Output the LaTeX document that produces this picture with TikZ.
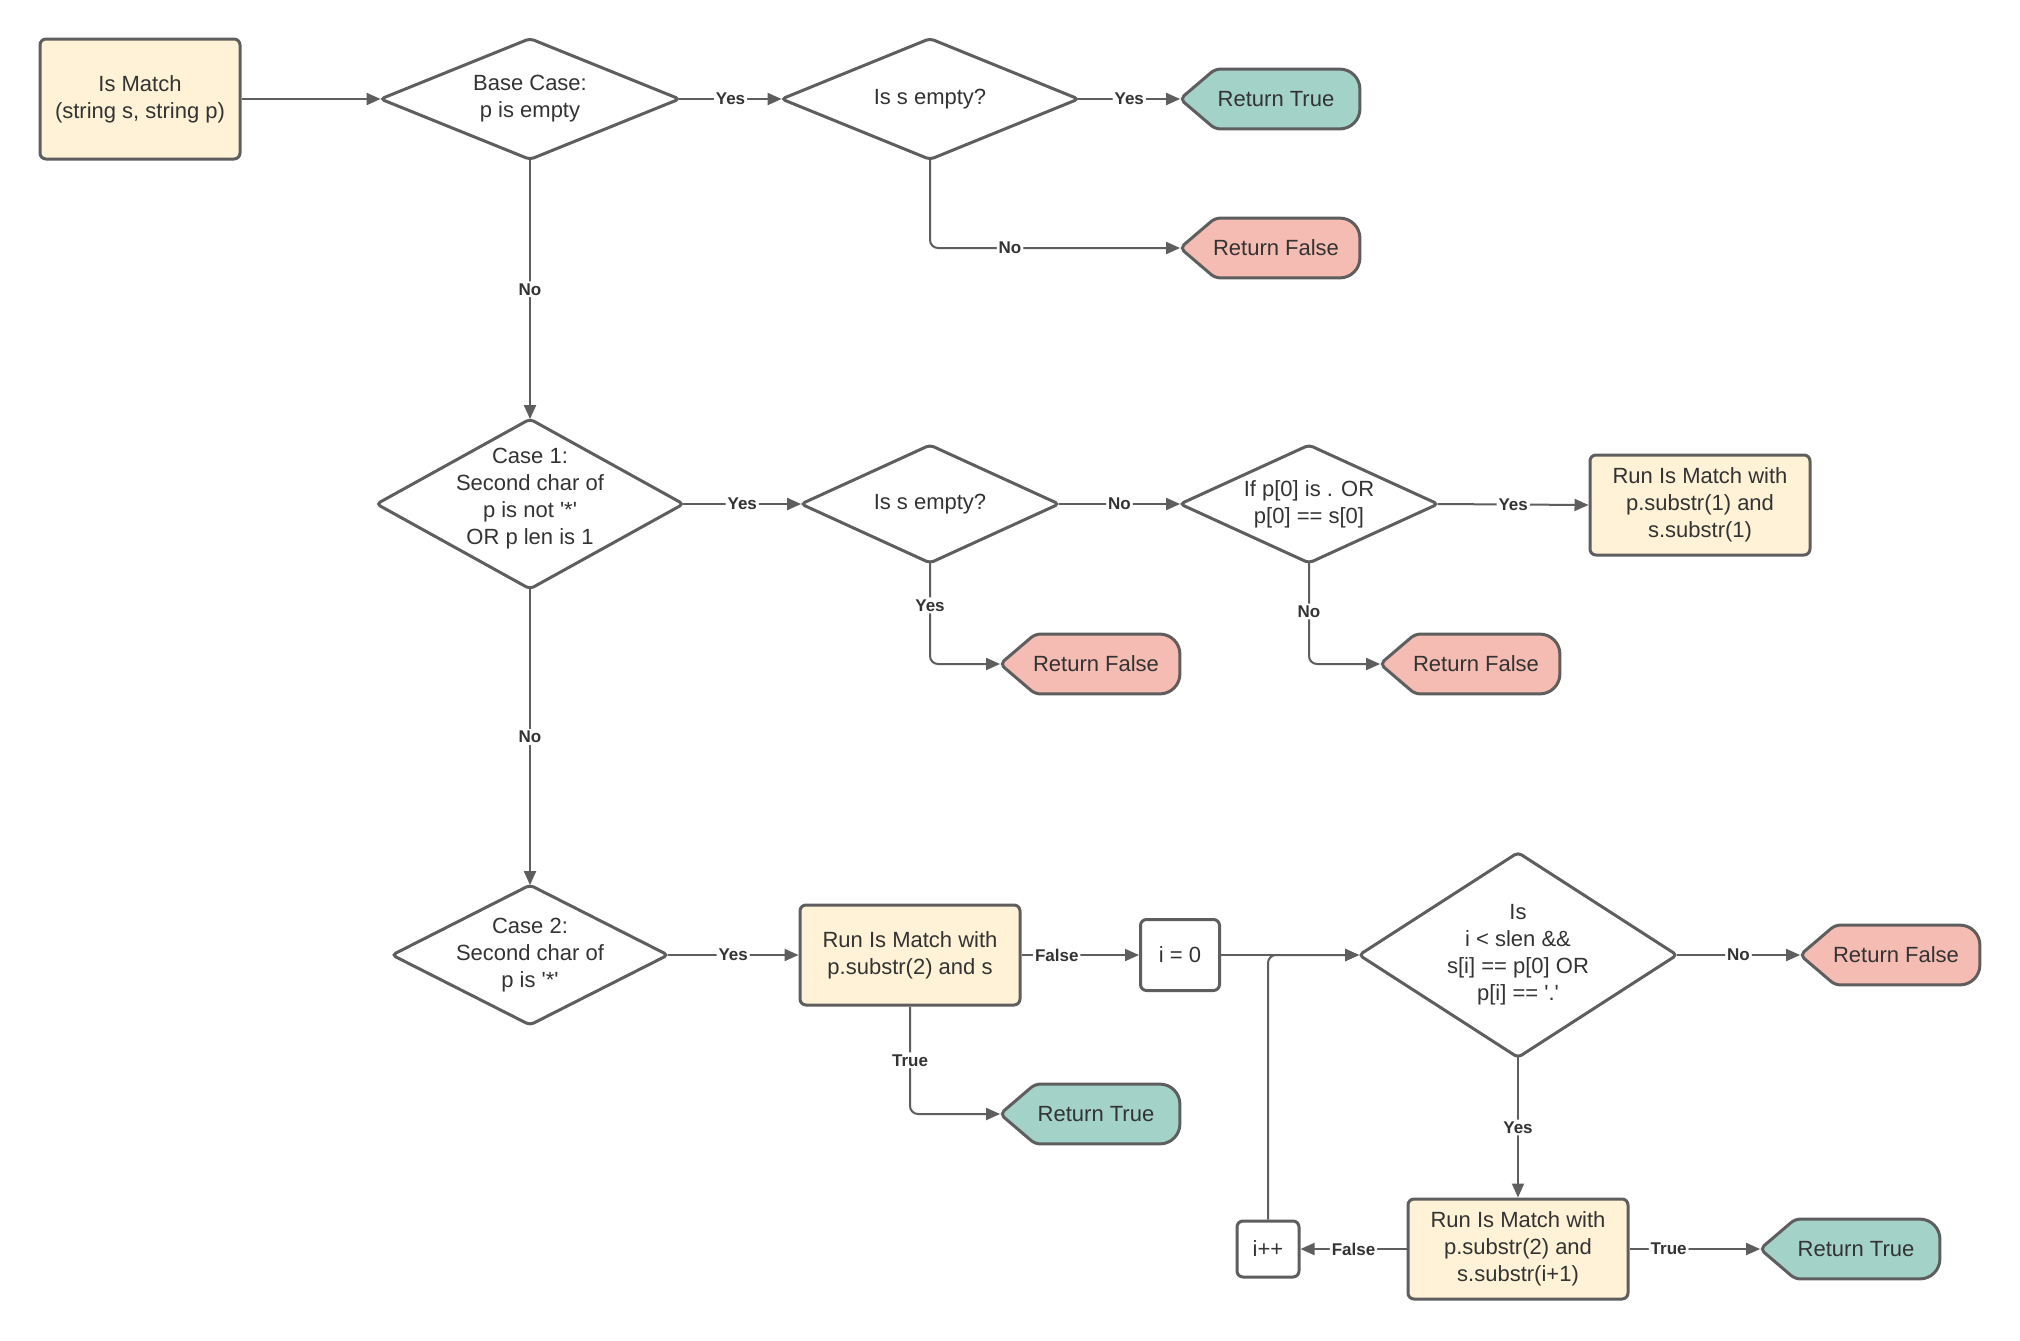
\documentclass[tikz,border=0pt]{standalone}
\usepackage{fontspec}
\setmainfont{Liberation Sans}
\usetikzlibrary{arrows.meta,backgrounds}
\definecolor{lc}{HTML}{5E5E5E}
\definecolor{tc}{HTML}{333333}
\definecolor{yel}{HTML}{FFF2D6}
\definecolor{grn}{HTML}{A3D2C8}
\definecolor{rfill}{HTML}{F4BCB2}
\newcommand\sq{\textquotesingle}
\begin{document}
\begin{tikzpicture}[x=0.5pt,y=-0.5pt,
  every node/.style={text=tc, font=\fontsize{11}{13.5}\selectfont, align=center},
  proc/.style 2 args={rectangle, draw=lc, line width=1.5pt, fill=yel, rounded corners=3pt, minimum width=#1, minimum height=#2, inner sep=0pt},
  plain/.style 2 args={rectangle, draw=lc, line width=1.5pt, fill=white, rounded corners=3pt, minimum width=#1, minimum height=#2, inner sep=0pt},
  dec/.style 2 args={rectangle, minimum width=#1, minimum height=#2, inner sep=0pt},
  ret/.style={rectangle, minimum width=89.5pt, minimum height=29.5pt, inner sep=0pt, execute at begin node={\hspace*{6pt}}},
  conn/.style={draw=lc, line width=1pt, -{Triangle[length=7pt,width=6pt]}, rounded corners=4pt},
  lab/.style={fill=white, inner sep=1pt, text=tc, font=\bfseries\fontsize{8.5}{10}\selectfont},
  outline/.style={draw=lc, line width=1.5pt}
]
\useasboundingbox (0,0) rectangle (2020,1340);

\node[proc={100pt}{60pt}] (start) at (140,99) {Is Match\\(string s, string p)};
\node[dec={149pt}{60pt}] (base) at (530,99) {Base Case:\\p is empty};
\node[dec={148pt}{60pt}] (se1) at (930,99) {Is s empty?};
\node[ret] (rt1) at (1270,99) {Return True};
\node[ret] (rf1) at (1270,248) {Return False};
\node[dec={153pt}{84.5pt}] (c1) at (530,504) {Case 1:\\Second char of\\p is not \sq*\sq\\OR p len is 1\rule[-7.5pt]{0pt}{0pt}};
\node[dec={128.5pt}{58.5pt}] (se2) at (930,504) {Is s empty?};
\node[dec={128.5pt}{58.5pt}] (ifp) at (1309,504) {If p[0] is . OR\\p[0] == s[0]};
\node[proc={110pt}{50pt}] (run1) at (1700,505) {Run Is Match with\\p.substr(1) and\\s.substr(1)};
\node[ret] (rf2) at (1090,664) {Return False};
\node[ret] (rf3) at (1470,664) {Return False};
\node[dec={137.5pt}{69.5pt}] (c2) at (530,955) {Case 2:\\Second char of\\p is \sq*\sq};
\node[proc={110pt}{50pt}] (run2) at (910,955) {Run Is Match with\\p.substr(2) and s};
\node[plain={39.5pt}{35.5pt}] (i0) at (1180,955) {i = 0};
\node[dec={158.5pt}{102pt}] (big) at (1518,955) {Is\\i < slen \&\&\\s[i] == p[0] OR\\p[i] == \sq.\sq};
\node[ret] (rf4) at (1890,955) {Return False};
\node[ret] (rt2) at (1090,1114) {Return True};
\node[proc={110pt}{50pt}] (run3) at (1518,1249) {Run Is Match with\\p.substr(2) and\\s.substr(i+1)};
\node[plain={31pt}{28pt}] (ipp) at (1268,1249) {i++};
\node[ret] (rt3) at (1850,1249) {Return True};

\begin{scope}[on background layer]
  \fill[white] (0,0) rectangle (2020,1340);
  \foreach \n in {base,se1,c1,se2,ifp,c2,big}
    {\draw[outline, fill=white, rounded corners=2pt] (\n.north) -- (\n.east) -- (\n.south) -- (\n.west) -- cycle;}
  \foreach \n/\c in {rt1/grn,rf1/rfill,rf2/rfill,rf3/rfill,rf4/rfill,rt2/grn,rt3/grn}
    {\draw[outline, fill=\c, rounded corners=2.5pt] (\n.west) -- ([xshift=17.5pt]\n.north west) [rounded corners=10pt] -- (\n.north east) -- (\n.south east) [rounded corners=2.5pt] -- ([xshift=17.5pt]\n.south west) -- cycle;}
\end{scope}

\draw[conn] (start.east) -- (base.west);
\draw[conn] (base.east) -- node[lab]{Yes} (se1.west);
\draw[conn] (se1.east) -- node[lab]{Yes} (rt1.west);
\draw[conn] (se1.south) |- node[lab,pos=0.66]{No} (rf1.west);
\draw[conn] (base.south) -- node[lab]{No} (c1.north);
\draw[conn] (c1.east) -- node[lab]{Yes} (se2.west);
\draw[conn] (se2.east) -- node[lab]{No} (ifp.west);
\draw[conn] (ifp.east) -- node[lab]{Yes} (run1.west);
\draw[conn] (se2.south) |- node[lab,pos=0.21]{Yes} (rf2.west);
\draw[conn] (ifp.south) |- node[lab,pos=0.24]{No} (rf3.west);
\draw[conn] (c1.south) -- node[lab]{No} (c2.north);
\draw[conn] (c2.east) -- node[lab]{Yes} (run2.west);
\draw[conn] (run2.east) -- node[lab,pos=0.3]{False} (i0.west);
\draw[conn] (run2.south) |- node[lab,pos=0.25]{True} (rt2.west);
\draw[conn] (i0.east) -- (big.west);
\draw[conn] (big.east) -- node[lab]{No} (rf4.west);
\draw[conn] (big.south) -- node[lab]{Yes} (run3.north);
\draw[conn] (run3.west) -- node[lab]{False} (ipp.east);
\draw[conn] (run3.east) -- node[lab,pos=0.3]{True} (rt3.west);
\draw[conn] (ipp.north) |- (big.west);
\end{tikzpicture}
\end{document}
